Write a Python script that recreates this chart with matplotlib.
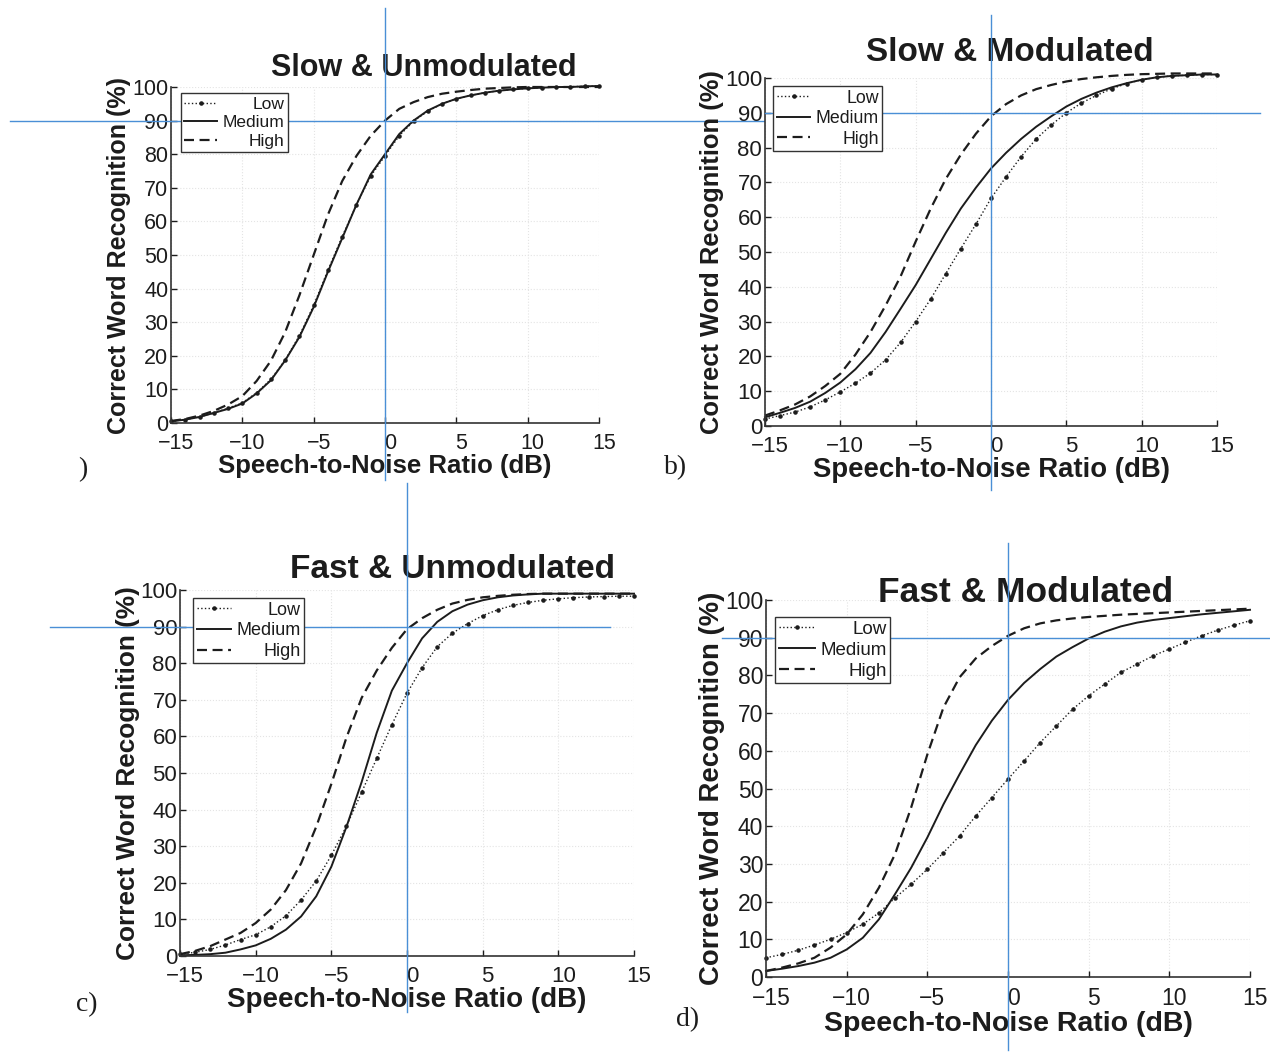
import numpy as np
import matplotlib
matplotlib.use("Agg")
import matplotlib.pyplot as plt
import matplotlib.transforms as mtransforms

snr = list(range(-15, 16))

titles = ["Slow & Unmodulated", "Slow & Modulated", "Fast & Unmodulated", "Fast & Modulated"]
panel_labels = [")", "b)", "c)", "d)"]
series_names = ["Low", "Medium", "High"]
x_ticks = [-15, -10, -5, 0, 5, 10, 15]
y_ticks = [0, 10, 20, 30, 40, 50, 60, 70, 80, 90, 100]

# Slow & Unmodulated
a_low = [0.5, 1, 1.8, 3, 4.4, 6, 9, 13, 18.8, 26, 35, 45.5, 55.5, 65, 73.5, 79.5, 85.5, 89.8, 92.8, 95, 96.5, 97.5, 98.3, 98.9, 99.3, 99.6, 99.8, 100, 100.1, 100.2, 100.3]
a_med = [0.5, 1, 1.8, 3, 4.2, 5.8, 8.8, 12.7, 18.6, 25.6, 34.5, 45, 55, 65, 74, 80, 86, 90, 93, 95, 96.5, 97.5, 98.3, 98.9, 99.3, 99.6, 99.8, 100, 100, 100.2, 100.3]
a_high = [0.6, 1.2, 2.2, 3.6, 5.5, 8, 12.5, 18.5, 27, 38, 50, 62, 72, 79.5, 85.5, 90, 93.5, 95.5, 97, 98, 98.6, 99.1, 99.5, 99.7, 99.9, 100, 100, 100, 100, 100, 100]

# Slow & Modulated
b_low = [2, 3, 4, 5.5, 7.5, 9.8, 12.3, 15.2, 19, 24, 30, 36.5, 43.8, 51, 58, 65.4, 71.6, 77.4, 82.5, 86.5, 90, 92.8, 95, 96.9, 98.4, 99.5, 100.2, 100.6, 100.8, 101, 101]
b_med = [2.5, 3.8, 5.2, 7, 9.5, 12.5, 16.3, 21, 27, 33.7, 40.5, 48, 55.5, 62.5, 68.5, 74, 78.5, 82.5, 86, 89, 91.8, 94, 95.8, 97.3, 98.5, 99.5, 100.2, 100.6, 100.8, 101, 101]
b_high = [3, 4.5, 6.2, 8.5, 11.5, 15, 20.5, 27, 34.6, 43, 53, 62.5, 71, 78, 84, 89, 92.5, 95, 96.8, 98, 99, 99.7, 100.2, 100.6, 100.9, 101.1, 101.2, 101.3, 101.3, 101.3, 101.3]

# Fast & Unmodulated
c_low = [0.5, 1, 1.8, 3, 4.5, 5.8, 8, 11, 15.3, 20.5, 27.5, 35.5, 44.7, 54, 63.2, 71.8, 78.8, 84.5, 88.2, 90.8, 93, 94.6, 95.8, 96.6, 97.2, 97.6, 97.9, 98.1, 98.2, 98.3, 98.3]
c_med = [0.2, 0.3, 0.5, 0.9, 1.8, 2.9, 4.7, 7.2, 10.8, 16.3, 24.4, 35.3, 47.5, 61, 72.5, 80, 86.8, 91.3, 94.2, 96, 97.2, 98, 98.5, 98.8, 99, 99, 99, 99, 99, 99, 99]
c_high = [0.5, 1.4, 2.7, 4.5, 6.3, 9, 12.7, 18, 25.3, 35.3, 47, 59.7, 70.5, 78, 84.2, 89.3, 92.3, 94.6, 96.3, 97.3, 98, 98.4, 98.7, 98.9, 99, 99, 99, 99, 99, 99, 99]

# Fast & Modulated
d_low = [5.1, 6, 7.1, 8.5, 10, 11.8, 14, 17, 21, 24.6, 28.6, 33, 37.4, 42.7, 47.6, 52.5, 57.3, 62.2, 66.6, 71, 74.6, 77.7, 80.8, 83, 85.2, 87, 88.8, 90.5, 92, 93.3, 94.5]
d_med = [1.6, 2.2, 2.9, 3.8, 5.1, 7.3, 10.4, 15.3, 22, 29, 37, 45.8, 53.8, 61.5, 68, 73.5, 78, 81.7, 85, 87.5, 89.8, 91.6, 93, 94, 94.7, 95.2, 95.7, 96.2, 96.6, 97, 97.4]
d_high = [1.6, 2.5, 3.6, 5.1, 7.8, 11.3, 16.6, 23.7, 32.6, 45, 59, 71.5, 79.5, 84.5, 87.8, 90.5, 92.5, 93.8, 94.6, 95.1, 95.5, 95.8, 96.1, 96.3, 96.5, 96.7, 96.9, 97.1, 97.3, 97.5, 97.7]

panels = [(a_low, a_med, a_high), (b_low, b_med, b_high), (c_low, c_med, c_high), (d_low, d_med, d_high)]

W, H = 1270, 1053
fig = plt.figure(figsize=(W / 100, H / 100), dpi=100)
fig.patch.set_facecolor("white")

def px_rect(l, r, top, bot):
    return [l / W, 1 - bot / H, (r - l) / W, (bot - top) / H]

rects = [px_rect(171, 599, 87, 423), px_rect(765, 1217, 78, 426),
         px_rect(180, 634, 590, 956), px_rect(766, 1250, 600, 977)]
title_pos = [(0.591, 1.057), (0.542, 1.072), (0.601, 1.055), (0.537, 1.019)]
legend_pos = [(0.023, 0.982), (0.018, 0.977), (0.029, 0.978), (0.019, 0.955)]
label_pos = [(78, 470), (664, 468), (76, 1005), (676, 1020)]
title_size = [22, 24, 24, 25.5]
xlabel_size = [18.5, 19.8, 20, 20.5]
ylabel_size = [18, 18.4, 18.9, 19.8]
tick_size = [15.5, 16, 16, 16.5]
legend_size = [12.5, 12.8, 13, 13.5]
xlabel_pad = [0, 0, 0, 1]
ylabel_pad = [1, 1, 0, 0]
# blue guide line extents (axes fractions)
vline_ext = [(-0.17, 1.235), (-0.184, 1.181), (-0.153, 1.292), (-0.194, 1.151)]
hline_ext = [(-0.376, 1.388), (0.0, 1.095), (-0.286, 0.947), (-0.09, 1.04)]

ink = "#1c1c1c"
blue = "#4a8fd6"
font = "Liberation Sans"

for i, ax_rect in enumerate(rects):
    ax = fig.add_axes(ax_rect)
    low, med, high = panels[i]
    ax.plot(snr, low, linestyle=":", marker=".", markersize=4.5, color=ink, lw=1.0, label=series_names[0], clip_on=False)
    ax.plot(snr, med, linestyle="-", color=ink, lw=1.4, label=series_names[1], clip_on=False)
    ax.plot(snr, high, linestyle=(0, (4.5, 2.5)), color=ink, lw=1.6, label=series_names[2], clip_on=False)
    ax.set_xlim(-15, 15)
    ax.set_ylim(0, 100)
    ax.set_xticks(x_ticks)
    ax.set_yticks(y_ticks)
    ax.set_xticklabels([str(t).replace("-", "\u2212") for t in x_ticks], fontfamily=font, fontsize=tick_size[i], color=ink)
    ax.set_yticklabels([str(t) for t in y_ticks], fontfamily=font, fontsize=tick_size[i], color=ink)
    ax.tick_params(direction="in", length=4, width=1, colors=ink)
    ax.tick_params(axis="x", pad=7)
    ax.tick_params(axis="y", pad=2)
    shift = mtransforms.ScaledTranslation(5 / 100, 0, fig.dpi_scale_trans)
    for lbl in ax.get_xticklabels():
        lbl.set_transform(lbl.get_transform() + shift)
    for s in ("top", "right"):
        ax.spines[s].set_visible(False)
    for s in ("left", "bottom"):
        ax.spines[s].set_color("#333333")
        ax.spines[s].set_linewidth(1.2)
    ax.grid(True, color="#e4e4e4", linestyle=":", linewidth=0.8)
    ax.set_axisbelow(True)
    ax.set_xlabel("Speech-to-Noise Ratio (dB)", fontfamily=font, fontweight="bold", fontsize=xlabel_size[i],
                  color=ink, labelpad=xlabel_pad[i])
    ax.set_ylabel("Correct Word Recognition (%)", fontfamily=font, fontweight="bold", fontsize=ylabel_size[i],
                  color=ink, labelpad=ylabel_pad[i])
    ax.text(title_pos[i][0], title_pos[i][1], titles[i], transform=ax.transAxes, ha="center", va="center",
            fontfamily=font, fontweight="bold", fontsize=title_size[i], color=ink)
    leg = ax.legend(loc="upper left", bbox_to_anchor=legend_pos[i], prop={"family": font, "size": legend_size[i]},
                    frameon=True, fancybox=False, edgecolor="#333333", framealpha=1,
                    borderpad=0.2, labelspacing=0.2, handlelength=1.9, handletextpad=0.3, borderaxespad=0)
    leg.get_frame().set_linewidth(1.0)
    for t in leg.get_texts():
        t.set_color(ink)
    fig.canvas.draw()
    renderer = fig.canvas.get_renderer()
    widths = [t.get_window_extent(renderer).width for t in leg.get_texts()]
    maxw = max(widths)
    for t, w in zip(leg.get_texts(), widths):
        t.set_position((maxw - w, 0))
    # blue guide lines at 0 dB and 90 %
    ax.axvline(0, ymin=vline_ext[i][0], ymax=vline_ext[i][1], color=blue, lw=1.0, clip_on=False, zorder=5)
    ax.axhline(90, xmin=hline_ext[i][0], xmax=hline_ext[i][1], color=blue, lw=1.0, clip_on=False, zorder=5)
    fig.text(label_pos[i][0] / W, 1 - label_pos[i][1] / H, panel_labels[i], fontfamily="Liberation Serif",
             fontsize=20, color=ink, ha="left", va="center")

fig.savefig("out.png", dpi=100, facecolor="white")
